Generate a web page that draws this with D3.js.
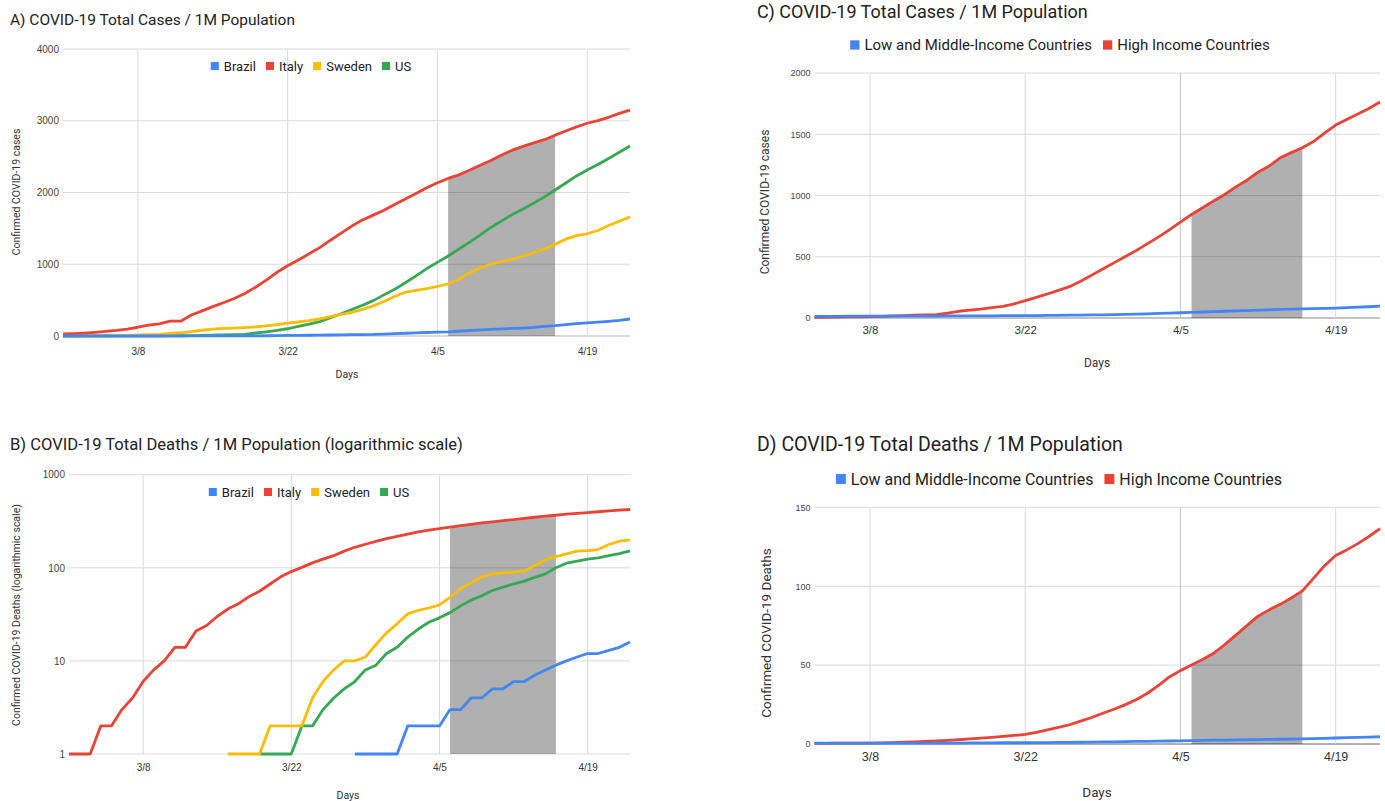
<!DOCTYPE html>
<html>
<head>
<meta charset="utf-8">
<script src="https://cdn.jsdelivr.net/npm/d3@7"></script>
<style>
  body { margin: 0; background: #fff; }
  svg { font-family: Roboto, "Liberation Sans", Arial, sans-serif; }
</style>
</head>
<body>
<svg id="chart" width="1385" height="801"></svg>
<script>
// ---- data (per 1M population, one value per day) ----
const countries = ["Brazil", "Italy", "Sweden", "US"];
const incomeGroups = ["Low and Middle-Income Countries", "High Income Countries"];
const countryColors = ["#4285F4", "#EA4335", "#FBBC04", "#34A853"];
const incomeColors = ["#4285F4", "#EA4335"];

const tickDates = ["3/8", "3/22", "4/5", "4/19"];
const countryStart = "3/1";
const incomeStart = "3/3";
const shadeFrom = "4/6";
const shadeTo = "4/16";

const casesTicks = [0, 1000, 2000, 3000, 4000];
const deathsLogTicks = [1, 10, 100, 1000];
const incomeCasesTicks = [0, 500, 1000, 1500, 2000];
const incomeDeathsTicks = [0, 50, 100, 150];

// A) total cases, 3/1 .. 4/23
const casesBrazil = [0,0,0,0,0,0.1,0.1,0.1,0.1,0.1, 0.2,0.2,0.7,0.7,0.8,0.9,1.5,1.8,2.9,3.8,
  4.8,7.5,9.1,10.6,12.1,14.1,16.2,18.5,20.2,21.7, 27.1,32.4,38.1,42.9,49.1,52.7,57.6,66.5,76.6,85.7,
  93.1,98.2,105.2,111,119.7,134.2,144.2,159.6,173.7,183.2, 193.1,204.2,216.9,237.1];
const casesItaly = [28,34,41,51,64,77,97,122,152,168, 206,206,293,350,410,464,522,592,680,779,
  888,980,1059,1146,1232,1335,1433,1532,1618,1685, 1753,1832,1909,1985,2065,2136,2196,2246,2310,2380,
  2445,2523,2590,2643,2692,2736,2799,2857,2915,2965, 3002,3048,3103,3147];
const casesSweden = [1,1,1,2,2,4,9,12,18,24, 35,45,60,80,95,105,110,118,126,140,
  160,180,195,215,240,270,300,330,370,420, 480,550,610,635,660,690,725,790,880,950,
  1000,1035,1070,1115,1160,1210,1280,1350,1400,1425, 1470,1540,1600,1660];
const casesUS = [0.2,0.3,0.4,0.5,0.7,0.8,1.2,1.6,1.8,2.9, 3.9,5.1,6.6,8.3,10.7,14.1,19.6,23.7,41.7,58.2,
  77.7,101,134,164,200,255,310,370,429,493, 573,650,742,839,940,1026,1116,1210,1306,1410,
  1513,1604,1692,1769,1852,1939,2035,2132,2231,2313, 2390,2474,2560,2648];

// B) total deaths (log scale), 3/1 .. 4/23, null = below 1
const deathsBrazil = [null,null,null,null,null,null,null,null,null,null, null,null,null,null,null,null,null,null,null,null,
  null,null,null,null,null,null,null,1,1,1, 1,1,2,2,2,2,3,3,4,4,
  5,5,6,6,7,8,9,10,11,12, 12,13,14,16];
const deathsItaly = [1,1,1,2,2,3,4,6,8,10, 14,14,21,24,30,36,41,49,56,67,
  80,91,101,113,124,135,151,166,179,192, 206,218,230,243,254,263,274,284,293,303,
  312,322,330,339,349,359,367,377,385,392, 400,408,416,423];
const deathsSweden = [null,null,null,null,null,null,null,null,null,null, null,null,null,null,null,1,1,1,1,2,
  2,2,2,4,6,8,10,10,11,15, 20,25,32,35,37,40,48,60,69,80,
  86,88,90,92,105,122,132,141,151,153, 157,178,193,200];
const deathsUS = [null,null,null,null,null,null,null,null,null,null, null,null,null,null,null,null,null,null,1,1,
  1,1,2,2,3,4,5,6,8,9, 12,14,18,22,26,29,33,39,45,50,
  57,62,67,72,79,86,100,112,118,124, 128,135,142,152];

// C) total cases by income group, 3/3 .. 4/23
const casesLowMid = [14,14,14,15,15,15,15,15,16,16, 16,16,17,17,17,18,18,19,19,20,
  20,21,22,23,24,25,26,28,30,32, 34,37,40,43,46,49,52,55,58,61,
  64,67,70,72,74,76,78,81,84,88, 92,97];
const casesHigh = [5,6,8,9,10,11,14,17,20,23, 25,28,40,55,65,73,84,95,115,142,
  168,196,225,256,300,350,400,450,500,550, 605,660,720,782,845,900,955,1008,1070,1125,
  1190,1240,1308,1350,1390,1440,1510,1575,1620,1665, 1710,1763];

// D) total deaths by income group, 3/3 .. 4/23
const deathsLowMid = [0.5,0.5,0.5,0.5,0.5,0.5,0.5,0.5,0.5,0.6, 0.6,0.6,0.6,0.6,0.7,0.7,0.7,0.8,0.8,0.8,
  0.9,0.9,1.0,1.0,1.1,1.2,1.3,1.4,1.5,1.6, 1.7,1.8,1.9,2.0,2.1,2.3,2.4,2.5,2.6,2.7,
  2.8,2.9,3.0,3.1,3.2,3.4,3.6,3.8,4.0,4.2, 4.4,4.6];
const deathsHigh = [0.4,0.4,0.5,0.5,0.6,0.6,0.7,0.9,1.1,1.3, 1.6,1.9,2.3,2.7,3.2,3.7,4.2,4.8,5.4,6.1,
  7.4,8.9,10.5,12.2,14.5,16.8,19.5,22,24.8,28, 32,37,42.5,46.5,50,53.5,57.5,63,69,75,
  81,85,88.5,92.5,97,105,113,119.5,123,127, 131.5,136.5];

// ---- drawing ----
const svg = d3.select("#chart");
const parseDay = d3.timeParse("%m/%d/%Y");
const day = s => parseDay(s + "/2020");
const fmtDay = d3.timeFormat("%-m/%-d");

function drawPanel(p) {
  const g = svg.append("g");
  const n = p.series[0].values.length;
  const dates = d3.range(n).map(i => d3.timeDay.offset(day(p.start), i));

  const x = d3.scaleTime()
    .domain([dates[0], dates[n - 1]])
    .range([p.left, p.right]);
  const y = (p.log ? d3.scaleLog() : d3.scaleLinear())
    .domain(p.yDomain)
    .range([p.bottom, p.top]);

  // horizontal grid
  g.append("g")
    .selectAll("line")
    .data(p.yTicks)
    .join("line")
    .attr("x1", p.left).attr("x2", p.right)
    .attr("y1", d => y(d)).attr("y2", d => y(d))
    .attr("stroke", (d, i) => i === 0 ? p.baseColor : "#dadada")
    .attr("stroke-width", 1);

  // vertical grid
  g.append("g")
    .selectAll("line")
    .data(tickDates)
    .join("line")
    .attr("x1", d => x(day(d))).attr("x2", d => x(day(d)))
    .attr("y1", p.top).attr("y2", p.bottom)
    .attr("stroke", d => (p.darkTick === d) ? "#c4c4c4" : "#dadada")
    .attr("stroke-width", 1);

  // shaded period under the top series
  const top = p.series[p.shadeIndex].values;
  const shadeData = dates.map((d, i) => ({ d, v: top[i] }))
    .filter(o => o.d >= day(shadeFrom) && o.d <= day(shadeTo));
  g.append("path")
    .datum(shadeData)
    .attr("fill", "#000")
    .attr("fill-opacity", 0.31)
    .attr("d", d3.area()
      .x(o => x(o.d))
      .y0(p.bottom)
      .y1(o => y(o.v)));

  // y tick labels
  g.append("g")
    .attr("transform", `translate(${p.left - 4},0)`)
    .call(d3.axisLeft(y).tickValues(p.yTicks).tickSize(0).tickPadding(0).tickFormat(d3.format("d")))
    .call(a => a.select(".domain").remove())
    .selectAll("text")
    .attr("fill", "#444")
    .style("font-size", p.yTickSize + "px")
    .style("font-family", null);

  // x tick labels
  g.append("g")
    .attr("transform", `translate(0,${p.xTickY})`)
    .call(d3.axisBottom(x).tickValues(tickDates.map(day)).tickSize(0).tickPadding(0).tickFormat(fmtDay))
    .call(a => a.select(".domain").remove())
    .selectAll("text")
    .attr("fill", "#333")
    .style("font-size", p.xTickSize + "px")
    .style("font-family", null);

  // lines, drawn in reverse so the first series sits on top like the original
  const line = d3.line()
    .defined(o => o.v != null)
    .x(o => x(o.d))
    .y(o => y(o.v));
  p.series.slice().reverse().forEach(s => {
    g.append("path")
      .datum(dates.map((d, i) => ({ d, v: s.values[i] })))
      .attr("fill", "none")
      .attr("stroke", s.color)
      .attr("stroke-width", 2.8)
      .attr("stroke-linejoin", "round")
      .attr("d", line);
  });

  // title
  g.append("text")
    .attr("x", p.titleX).attr("y", p.titleY)
    .attr("fill", "#222")
    .style("font-size", p.titleSize + "px")
    .text(p.title);

  // axis titles
  g.append("text")
    .attr("x", p.daysX).attr("y", p.daysY)
    .attr("text-anchor", "middle")
    .attr("fill", "#333")
    .style("font-size", p.axisTitleSize + "px")
    .text("Days");
  g.append("text")
    .attr("transform", `translate(${p.yLabelX},${p.yLabelY}) rotate(-90)`)
    .attr("text-anchor", "middle")
    .attr("dy", "0.35em")
    .attr("fill", "#333")
    .style("font-size", p.axisTitleSize + "px")
    .text(p.yLabel);

  // legend, centred on legendX
  const leg = g.append("g");
  const box = p.legendSize * 0.62;
  let cx = 0;
  p.series.forEach(s => {
    leg.append("rect")
      .attr("x", cx).attr("y", -box / 2)
      .attr("width", box).attr("height", box)
      .attr("fill", s.color);
    const t = leg.append("text")
      .attr("x", cx + box + 5).attr("y", 0)
      .attr("dy", "0.35em")
      .attr("fill", "#222")
      .style("font-size", p.legendSize + "px")
      .text(s.name);
    cx += box + 5 + t.node().getComputedTextLength() + p.legendGap;
  });
  const legW = cx - p.legendGap;
  leg.attr("transform", `translate(${p.legendX - legW / 2},${p.legendY})`);
}

const countrySeries = vals => countries.map((c, i) => ({ name: c, color: countryColors[i], values: vals[i] }));
const incomeSeries = vals => incomeGroups.map((c, i) => ({ name: c, color: incomeColors[i], values: vals[i] }));

const leftCommon = {
  start: countryStart, left: 63, right: 630, shadeIndex: 1,
  titleX: 10, yTickSize: 10, xTickSize: 10, axisTitleSize: 10.5,
  legendSize: 13, legendGap: 10, yLabelX: 16, baseColor: "#b5b5b5"
};
const rightCommon = {
  start: incomeStart, left: 814.5, right: 1380, shadeIndex: 1,
  titleX: 757, yTickSize: 9, legendGap: 11, daysX: 1097, darkTick: "4/5"
};

drawPanel(Object.assign({}, leftCommon, {
  title: "A) COVID-19 Total Cases / 1M Population",
  titleY: 25, titleSize: 15.5, top: 49, bottom: 336,
  yDomain: [0, 4000], yTicks: casesTicks,
  series: countrySeries([casesBrazil, casesItaly, casesSweden, casesUS]),
  xTickY: 348, daysX: 347, daysY: 378,
  yLabel: "Confirmed COVID-19 cases", yLabelY: 192,
  legendX: 311, legendY: 66
}));

drawPanel(Object.assign({}, leftCommon, {
  title: "B) COVID-19 Total Deaths / 1M Population (logarithmic scale)",
  titleY: 450, titleSize: 16.6, left: 69, top: 474.7, bottom: 754, log: true,
  yDomain: [1, 1000], yTicks: deathsLogTicks, baseColor: "#dadada",
  series: countrySeries([deathsBrazil, deathsItaly, deathsSweden, deathsUS]),
  xTickY: 764, daysX: 348, daysY: 799,
  yLabel: "Confirmed COVID-19 Deaths (logarithmic scale)", yLabelY: 615,
  legendX: 309, legendY: 492
}));

drawPanel(Object.assign({}, rightCommon, {
  title: "C) COVID-19 Total Cases / 1M Population",
  titleY: 18, titleSize: 18, top: 73, bottom: 318,
  xTickSize: 11.5, axisTitleSize: 12, legendSize: 15, baseColor: "#888",
  yDomain: [0, 2000], yTicks: incomeCasesTicks,
  series: incomeSeries([casesLowMid, casesHigh]),
  xTickY: 326, daysY: 367, yLabelX: 765,
  yLabel: "Confirmed COVID-19 cases", yLabelY: 202,
  legendX: 1060, legendY: 45
}));

drawPanel(Object.assign({}, rightCommon, {
  title: "D) COVID-19 Total Deaths / 1M Population",
  titleY: 451, titleSize: 19.5, top: 507.3, bottom: 744,
  xTickSize: 12.5, axisTitleSize: 13.5, legendSize: 16, baseColor: "#666",
  yDomain: [0, 150], yTicks: incomeDeathsTicks,
  series: incomeSeries([deathsLowMid, deathsHigh]),
  xTickY: 752, daysY: 797, yLabelX: 766,
  yLabel: "Confirmed COVID-19 Deaths", yLabelY: 633,
  legendX: 1059, legendY: 479
}));
</script>
</body>
</html>
